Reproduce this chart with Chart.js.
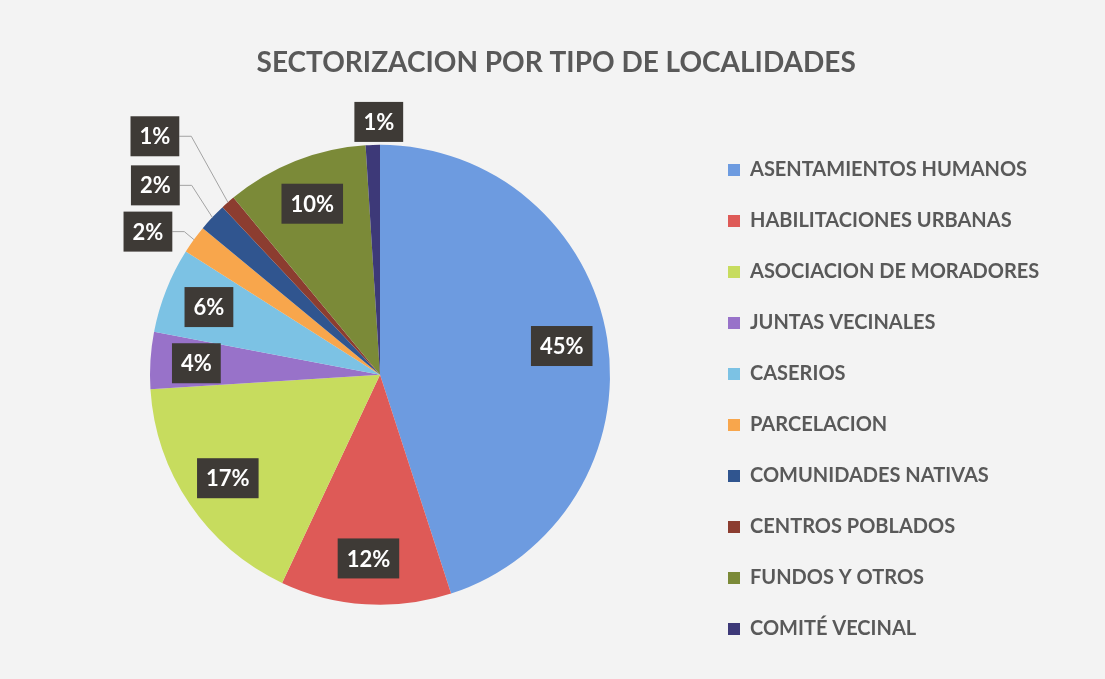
<!DOCTYPE html>
<html lang="es">
<head>
<meta charset="UTF-8">
<title>Sectorizacion por tipo de localidades</title>
<script src="https://cdn.jsdelivr.net/npm/chart.js@4"></script>
<style>
  html, body { margin: 0; padding: 0; background: #f3f3f3; }
  canvas { display: block; }
</style>
</head>
<body>
<canvas id="chart" width="1105" height="679"></canvas>
<script>
const title = 'SECTORIZACION POR TIPO DE LOCALIDADES';
const categories = [
  'ASENTAMIENTOS HUMANOS',
  'HABILITACIONES URBANAS',
  'ASOCIACION DE MORADORES',
  'JUNTAS VECINALES',
  'CASERIOS',
  'PARCELACION',
  'COMUNIDADES NATIVAS',
  'CENTROS POBLADOS',
  'FUNDOS Y OTROS',
  'COMITÉ VECINAL'
];
const percents = [45, 12, 17, 4, 6, 2, 2, 1, 10, 1];
const colors = [
  '#6d9be0', '#de5a57', '#c7dc5e', '#9872c9', '#7cc2e4',
  '#f8a64c', '#30558f', '#8c3d30', '#7b8a38', '#3d3978'
];

// etiquetas de tajadas chicas: van afuera, desplazadas desde el borde (px)
const outsideNudge = { 5: [-46, -8], 6: [-57, -32], 7: [-73, -66], 9: [6, -23] };

const labelFont = 'bold 22px Lato';
const legendPadding = 31;

// ancho de la leyenda para dejar la torta centrada donde va
const measure = document.createElement('canvas').getContext('2d');
measure.font = 'bold 20px Lato';
const longest = Math.max(...categories.map(c => measure.measureText(c).width));
const legendWidth = legendPadding + 12 + 10 + longest;
const legendLeft = 728 - legendPadding;
const rightPad = 1105 - legendLeft - legendWidth - 10;

const sliceLabels = {
  id: 'sliceLabels',
  afterDatasetsDraw(chart) {
    const ctx = chart.ctx;
    const meta = chart.getDatasetMeta(0);
    ctx.save();
    ctx.font = labelFont;
    ctx.textAlign = 'center';
    ctx.textBaseline = 'middle';
    meta.data.forEach((arc, i) => {
      const p = arc.getProps(['x', 'y', 'startAngle', 'endAngle', 'outerRadius'], true);
      const mid = (p.startAngle + p.endAngle) / 2;
      const text = percents[i] + '%';
      const w = ctx.measureText(text).width + 18;
      const h = 40;
      let bx, by;
      const nudge = outsideNudge[i];
      if (nudge) {
        const ex = p.x + Math.cos(mid) * p.outerRadius;
        const ey = p.y + Math.sin(mid) * p.outerRadius;
        bx = ex + nudge[0];
        by = ey + nudge[1];
        if (bx < ex - 20) {
          ctx.strokeStyle = '#a3a3a3';
          ctx.lineWidth = 1;
          ctx.beginPath();
          ctx.moveTo(bx + w / 2, by);
          ctx.lineTo(bx + w / 2 + 12, by);
          ctx.lineTo(ex, ey);
          ctx.stroke();
        }
      } else {
        const r = p.outerRadius * 0.8;
        bx = p.x + Math.cos(mid) * r;
        by = p.y + Math.sin(mid) * r;
      }
      ctx.fillStyle = '#3e3a36';
      ctx.fillRect(bx - w / 2, by - h / 2, w, h);
      ctx.fillStyle = '#ffffff';
      ctx.fillText(text, bx, by + 1);
    });
    ctx.restore();
  }
};

new Chart(document.getElementById('chart'), {
  type: 'pie',
  data: {
    labels: categories,
    datasets: [{
      data: percents,
      backgroundColor: colors,
      borderWidth: 0,
      radius: 230
    }]
  },
  options: {
    responsive: false,
    animation: false,
    devicePixelRatio: 1,
    layout: { padding: { top: 46, left: 2 * 380 - legendLeft, right: rightPad, bottom: 9 } },
    plugins: {
      title: {
        display: true,
        text: title,
        color: '#595959',
        font: { family: 'Lato', size: 28, weight: 'bold' },
        padding: 0
      },
      legend: {
        position: 'right',
        align: 'end',
        labels: {
          color: '#595959',
          font: { family: 'Lato', size: 20, weight: 'bold' },
          boxWidth: 12,
          boxHeight: 12,
          padding: legendPadding
        }
      },
      tooltip: { enabled: false }
    }
  },
  plugins: [sliceLabels]
});
</script>
</body>
</html>
